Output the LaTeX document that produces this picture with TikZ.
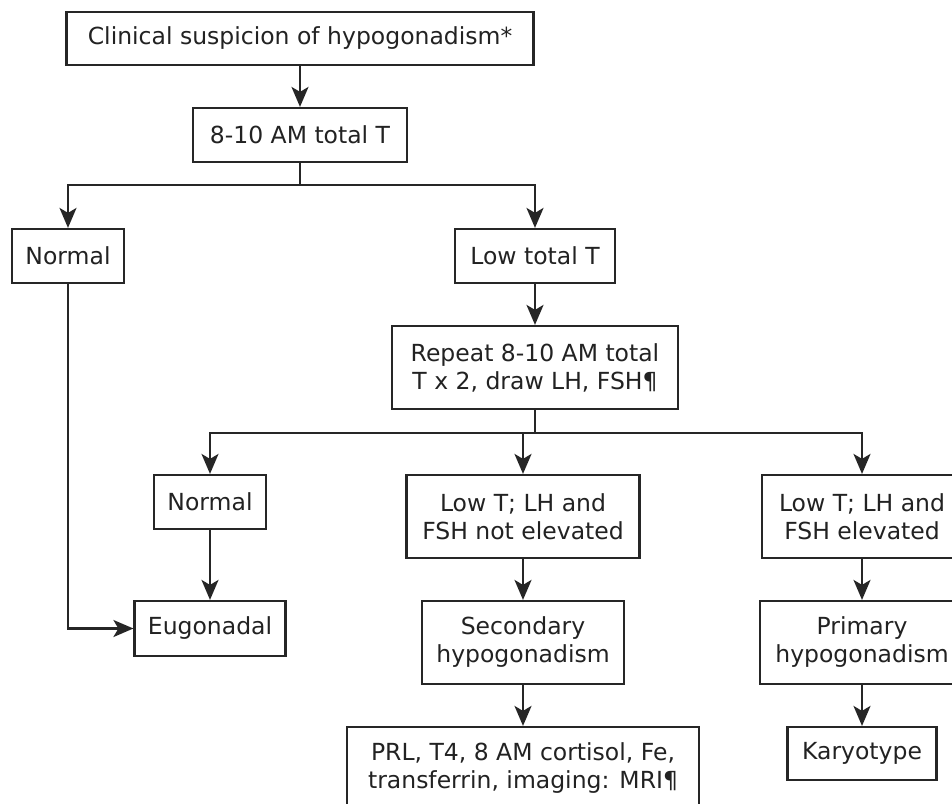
\documentclass[tikz,border=0pt]{standalone}
\usepackage{fontspec}
\setmainfont{DejaVu Sans}
\usetikzlibrary{arrows.meta}
\definecolor{linec}{HTML}{262626}
\definecolor{textc}{HTML}{222222}
\begin{document}
\begin{tikzpicture}[x=1pt,y=-1pt,
  box/.style={draw=linec, line width=2.2pt, align=center, inner sep=0pt,
    font=\fontsize{23.5}{28}\selectfont, text=textc},
  arr/.style={draw=linec, line width=2.2pt, -{Stealth[length=20pt,width=17pt,inset=5pt]}},
  ln/.style={draw=linec, line width=2.2pt}]
\useasboundingbox (0,0) rectangle (952,803);
\fill[white] (0,0) rectangle (952,803);

\node[box, minimum width=467pt, minimum height=53pt] (b1) at (300,38.5) {Clinical suspicion of hypogonadism*};
\node[box, minimum width=214pt, minimum height=54pt] (b2) at (300,135) {8-10 AM total T};
\node[box, minimum width=112pt, minimum height=54pt] (n1) at (68,256) {Normal};
\node[box, minimum width=160pt, minimum height=54pt] (lt) at (535,256) {Low total T};
\node[box, minimum width=286pt, minimum height=83pt] (rp) at (535,367.5) {Repeat 8-10 AM total\\T x 2, draw LH, FSH¶};
\node[box, minimum width=112pt, minimum height=54pt] (n2) at (210,502) {Normal};
\node[box, minimum width=233pt, minimum height=83pt] (lne) at (523,516.5) {Low T; LH and\\FSH not elevated};
\node[box, minimum width=200pt, minimum height=83pt] (le) at (862,516.5) {Low T; LH and\\FSH elevated};
\node[box, minimum width=151pt, minimum height=55pt] (eu) at (210,628.5) {Eugonadal};
\node[box, minimum width=202pt, minimum height=83pt] (sec) at (523,642.5) {Secondary\\hypogonadism};
\node[box, minimum width=204pt, minimum height=83pt] (pri) at (862,642.5) {Primary\\hypogonadism};
\node[box, minimum width=352pt, minimum height=83pt] (prl) at (523,768.5) {PRL, T4, 8 AM cortisol, Fe,\\transferrin, imaging: MRI¶};
\node[box, minimum width=149pt, minimum height=53pt] (kar) at (862,753.5) {Karyotype};

\coordinate (j1) at (300,185);
\coordinate (j2) at (535,433);

\draw[arr] (b1) -- (b2);
\draw[ln] (b2.south) -- (j1);
\draw[arr] (j1) -| (n1.north);
\draw[arr] (j1) -| (lt.north);
\draw[arr] (lt) -- (rp);
\draw[ln] (rp.south) -- (j2);
\draw[arr] (j2) -| (n2.north);
\draw[arr] (j2) -| (lne.north);
\draw[arr] (j2) -| (le.north);
\draw[arr] (n2) -- (eu);
\draw[arr] (lne) -- (sec);
\draw[arr] (sec) -- (prl);
\draw[arr] (le) -- (pri);
\draw[arr] (pri) -- (kar);
\draw[arr] (n1.south) |- (eu.west);
\end{tikzpicture}
\end{document}
